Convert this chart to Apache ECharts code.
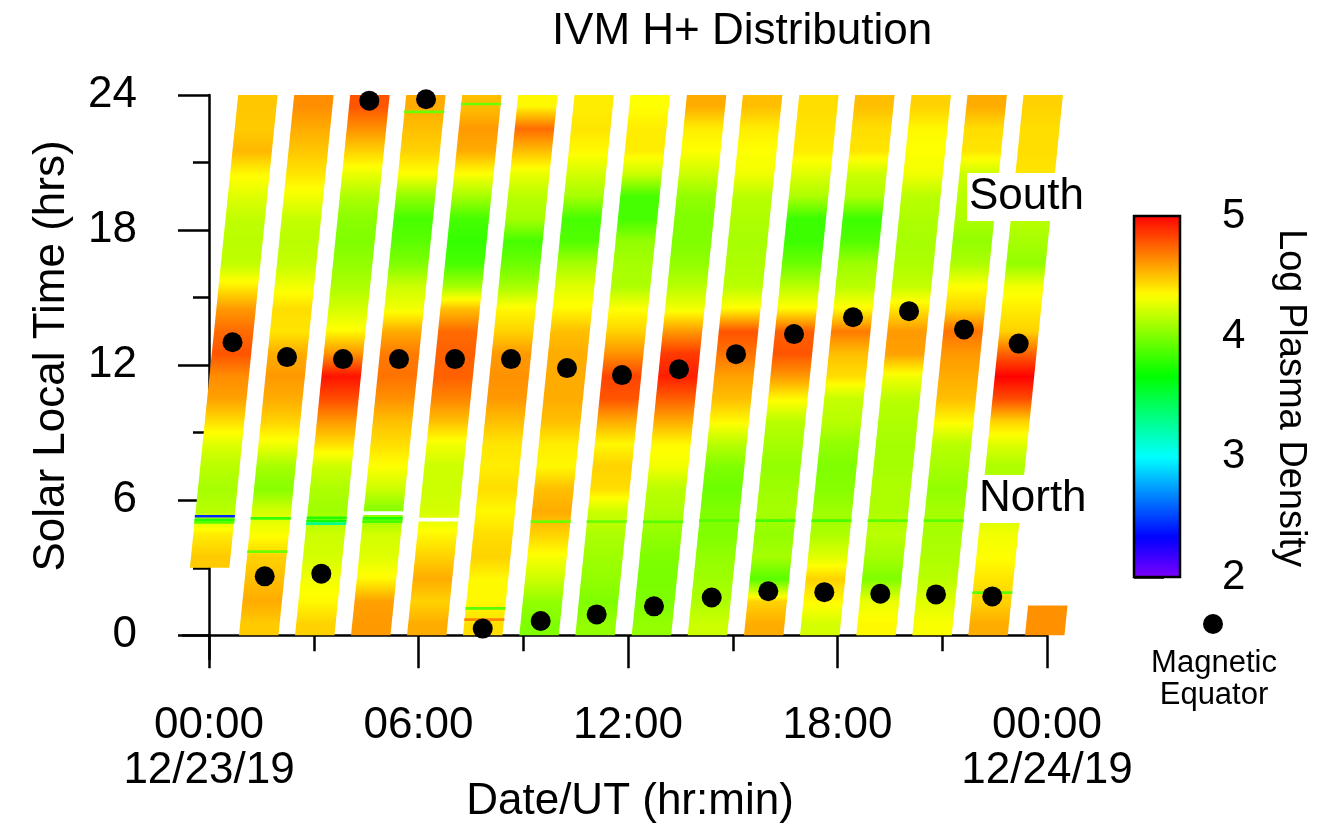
<!DOCTYPE html>
<html>
<head>
<meta charset="utf-8">
<script src="https://cdn.jsdelivr.net/npm/echarts@6.0.0/dist/echarts.min.js"></script>
<style>
html,body{margin:0;padding:0;background:#fff;}
#chart{width:1328px;height:824px;}
</style>
</head>
<body>
<div id="chart"></div>
<script>
// ---------------- DATA ----------------
const chartTitle = 'IVM H+ Distribution';
const xAxisTitle = 'Date/UT (hr:min)';
const yAxisTitle = 'Solar Local Time (hrs)';
const colorbarTitle = 'Log Plasma Density';
const legendTitle = 'Magnetic\nEquator';

// UT (hours after 00:00 12/23/19) at which each orbit track crosses SLT 0
const orbitStartUT = [-0.745, 0.859, 2.463, 4.067, 5.671, 7.274, 8.887, 10.491,
                      12.106, 13.710, 15.322, 16.926, 18.538, 20.142, 21.746, 23.370];
// SLT range covered by each orbit track
const orbitSltMin = [3, 0, 0, 0, 0, 0, 0, 0, 0, 0, 0, 0, 0, 0, 0, 0];
const orbitSltMax = [24, 24, 24, 24, 24, 24, 24, 24, 24, 24, 24, 24, 24, 24, 24, 1.33];
const orbitSweepHours = 1.58;   // UT hours for a track to sweep 24 h of SLT
const trackWidthHours = 1.13;   // drawn width of each track

// log plasma density per orbit, SLT bins 0-1, 1-2, ..., 23-24
const orbit00 = [null,null,null,4.47,4.38,4.15,4.10,4.15,4.25,4.42,4.58,4.63,4.78,4.72,4.60,4.38,4.17,4.15,4.17,4.25,4.35,4.52,4.47,4.48];
const orbit01 = [4.47,4.55,4.50,4.45,4.32,4.22,4.02,4.10,4.30,4.45,4.55,4.60,4.55,4.40,4.42,4.30,4.18,4.15,4.18,4.30,4.40,4.48,4.55,4.63];
const orbit02 = [4.45,4.35,4.30,4.22,4.20,4.08,4.12,4.20,4.42,4.60,4.80,4.95,4.62,4.35,4.22,4.12,4.05,4.00,4.03,4.12,4.28,4.45,4.62,4.78];
const orbit03 = [4.60,4.58,4.35,4.25,4.22,4.00,4.20,4.33,4.42,4.50,4.62,4.70,4.68,4.55,4.30,4.20,4.00,3.90,3.85,4.05,4.33,4.45,4.50,4.55];
const orbit04 = [4.55,4.45,4.55,4.45,4.35,4.22,4.20,4.20,4.30,4.50,4.65,4.75,4.75,4.72,4.50,4.10,3.85,3.80,3.85,4.10,4.33,4.55,4.60,4.50];
const orbit05 = [4.42,4.35,4.35,4.45,4.42,4.35,4.42,4.38,4.40,4.50,4.60,4.62,4.60,4.45,4.35,4.10,3.95,3.85,4.10,4.15,4.28,4.50,4.72,4.35];
const orbit06 = [4.00,4.05,4.20,4.32,4.45,4.55,4.50,4.35,4.38,4.50,4.55,4.55,4.55,4.50,4.35,4.25,4.10,3.88,3.85,4.10,4.22,4.35,4.40,4.38];
const orbit07 = [4.05,4.00,4.05,4.08,4.12,4.20,4.42,4.45,4.35,4.55,4.78,4.82,4.62,4.45,4.33,4.12,4.10,4.05,3.85,3.85,4.20,4.38,4.38,4.33];
const orbit08 = [4.05,4.00,3.98,4.00,4.05,4.12,4.15,4.30,4.35,4.55,4.75,4.92,4.85,4.60,4.30,4.15,4.05,4.00,4.00,4.05,4.20,4.33,4.38,4.55];
const orbit09 = [4.20,4.12,4.08,4.05,4.00,4.00,3.95,4.00,4.15,4.35,4.50,4.58,4.70,4.78,4.35,4.15,4.12,4.10,4.12,4.15,4.30,4.33,4.38,4.50];
const orbit10 = [4.55,4.45,3.90,4.10,4.05,4.10,4.08,4.05,4.10,4.15,4.35,4.60,4.78,4.75,4.35,4.15,3.95,3.82,3.82,4.12,4.25,4.38,4.40,4.42];
const orbit11 = [4.22,4.35,4.45,4.25,4.12,4.08,4.02,4.00,4.05,4.15,4.18,4.42,4.50,4.68,4.35,4.15,4.08,3.88,3.82,4.12,4.20,4.40,4.42,4.50];
const orbit12 = [4.35,4.28,4.00,4.10,4.15,4.12,4.12,4.10,4.10,4.12,4.15,4.30,4.58,4.60,4.40,4.18,4.12,4.10,4.12,4.15,4.30,4.33,4.35,4.45];
const orbit13 = [4.32,4.25,4.15,4.12,4.10,4.10,4.05,4.10,4.15,4.35,4.50,4.55,4.60,4.70,4.45,4.33,4.12,4.05,4.12,4.15,4.20,4.40,4.42,4.55];
const orbit14 = [4.55,4.45,4.40,4.33,4.30,4.20,4.15,4.12,4.25,4.45,4.80,5.00,4.75,4.45,4.38,4.30,4.05,4.10,4.15,4.25,4.40,4.42,4.42,4.45];
const orbit15 = [4.62,4.62,null,null,null,null,null,null,null,null,null,null,null,null,null,null,null,null,null,null,null,null,null,null];
const orbitDensity = [orbit00, orbit01, orbit02, orbit03, orbit04, orbit05, orbit06, orbit07,
                      orbit08, orbit09, orbit10, orbit11, orbit12, orbit13, orbit14, orbit15];

// thin streaks: [orbit, SLT, log density]  (null = data gap)
const streaks = [
  [0, 5.29, 2.45], [0, 5.13, 3.75], [0, 5.02, 3.90],
  [1, 5.20, 3.80], [1, 3.72, 3.95],
  [2, 5.22, 3.75], [2, 5.08, 3.70], [2, 4.96, 3.30],
  [3, 5.43, null], [3, 5.20, 3.75], [3, 5.05, 3.85], [3, 23.25, 3.95],
  [4, 5.14, null], [4, 23.60, 3.95],
  [5, 1.20, 3.90], [5, 0.70, 4.65],
  [6, 5.05, 3.95], [7, 5.05, 3.95], [8, 5.04, 3.90], [9, 5.10, 3.90],
  [10, 5.10, 3.85], [11, 5.10, 3.85], [12, 5.10, 3.90], [13, 5.10, 3.90],
  [14, 1.90, 3.90]
];

// magnetic equator crossings
const equatorUT  = [0.673, 1.595, 2.234, 3.216, 3.838, 4.591, 5.441, 6.215, 7.045, 7.839, 8.649, 9.500, 10.253, 11.103, 11.828,
                    12.744, 13.460, 14.397, 15.093, 16.018, 16.754, 17.622, 18.444, 19.226, 20.048, 20.821, 21.623, 22.433, 23.189];
const equatorSLT = [13.02, 2.62, 12.36, 2.74, 12.27, 23.75, 12.27, 23.81, 12.27, 0.30, 12.27, 0.64, 11.87, 0.93, 11.56,
                    1.29, 11.82, 1.68, 12.49, 1.96, 13.38, 1.92, 14.13, 1.85, 14.40, 1.82, 13.59, 1.73, 12.96];

// axes
const xMin = -0.745, xMax = 24;
const yMin = -1.05, yMax = 24;
const xMajorTicks = [0, 6, 12, 18, 24];
const xMinorTicks = [3, 9, 15, 21];
const xTickLabels = ['00:00\n12/23/19', '06:00', '12:00', '18:00', '00:00\n12/24/19'];
const yMajorTicks = [0, 6, 12, 18, 24];
const yMinorTicks = [3, 9, 15, 21];
const cbarMin = 2, cbarMax = 5;
const cbarTicks = [2, 3, 4, 5];

// ---------------- RENDERING ----------------
const FONT = "'Liberation Sans', Arial, Helvetica, sans-serif";

function hex2(n) { const s = Math.round(Math.max(0, Math.min(255, n))).toString(16); return s.length < 2 ? '0' + s : s; }
// rainbow: hue 270 (violet) at 2 -> hue 0 (red) at 5
function densityColor(v) {
  if (v == null || isNaN(v)) return '#ffffff';
  const c = Math.max(cbarMin, Math.min(cbarMax, v));
  const h = (cbarMax - c) / (cbarMax - cbarMin) * 270;
  const f = (n) => { const k = (n + h / 30) % 12; return 0.5 - 0.5 * Math.max(-1, Math.min(k - 3, 9 - k, 1)); };
  return '#' + hex2(f(0) * 255) + hex2(f(8) * 255) + hex2(f(4) * 255);
}

function valueAt(prof, s) {
  const x = s - 0.5;
  const i0 = Math.floor(x), i1 = i0 + 1;
  const get = (i) => prof[Math.max(0, Math.min(prof.length - 1, i))];
  let a = get(i0), b = get(i1);
  if (a == null) a = b;
  if (b == null) b = a;
  return a + (b - a) * (x - i0);
}

function trackLeftUT(k, s) { return orbitStartUT[k] + s / 24 * orbitSweepHours; }

function renderTrack(params, api) {
  const k = params.dataIndex;
  const sLo = orbitSltMin[k], sHi = orbitSltMax[k];
  const prof = orbitDensity[k];
  const bl = api.coord([trackLeftUT(k, sLo), sLo]);
  const br = api.coord([trackLeftUT(k, sLo) + trackWidthHours, sLo]);
  const tr = api.coord([trackLeftUT(k, sHi) + trackWidthHours, sHi]);
  const tl = api.coord([trackLeftUT(k, sHi), sHi]);
  const n = Math.max(2, Math.round((sHi - sLo) / 0.1));
  const stops = [];
  for (let j = 0; j <= n; j++) {
    const s = sHi - (sHi - sLo) * j / n;
    stops.push({ offset: j / n, color: densityColor(valueAt(prof, s)) });
  }
  return {
    type: 'polygon',
    shape: { points: [bl, br, tr, tl] },
    style: { fill: new echarts.graphic.LinearGradient(0, tl[1], 0, bl[1], stops, true), stroke: null }
  };
}

function renderStreak(params, api) {
  const st = streaks[params.dataIndex];
  const k = st[0], s = st[1], v = st[2];
  const h = v == null ? 0.16 : 0.12;
  const a = s - h / 2, b = s + h / 2;
  const p1 = api.coord([trackLeftUT(k, a) - 0.01, a]);
  const p2 = api.coord([trackLeftUT(k, a) + trackWidthHours + 0.01, a]);
  const p3 = api.coord([trackLeftUT(k, b) + trackWidthHours + 0.01, b]);
  const p4 = api.coord([trackLeftUT(k, b) - 0.01, b]);
  return { type: 'polygon', shape: { points: [p1, p2, p3, p4] }, style: { fill: densityColor(v) } };
}

function renderColorbar(params, api) {
  const p1 = api.coord([0, cbarMax]);
  const p2 = api.coord([1, cbarMin]);
  const stops = [];
  const n = 60;
  for (let j = 0; j <= n; j++) {
    stops.push({ offset: j / n, color: densityColor(cbarMax - (cbarMax - cbarMin) * j / n) });
  }
  return {
    type: 'rect',
    shape: { x: p1[0], y: p1[1], width: p2[0] - p1[0], height: p2[1] - p1[1] },
    style: { fill: new echarts.graphic.LinearGradient(0, 0, 0, 1, stops), stroke: '#000', lineWidth: 2.5 }
  };
}

const axisLineStyle = { color: '#000', width: 2.5 };
const labelStyle = { color: '#000', fontFamily: FONT };

const option = {
  animation: false,
  backgroundColor: '#ffffff',
  grid: [
    { left: 183, top: 95, width: 864, height: 564 },
    { left: 1134, top: 216, width: 46, height: 361 }
  ],
  xAxis: [
    { gridIndex: 0, type: 'value', min: xMin, max: xMax, position: 'bottom',
      axisLine: { show: true, lineStyle: axisLineStyle },
      axisTick: { show: true, inside: false, customValues: xMajorTicks, length: 33, lineStyle: axisLineStyle },
      axisLabel: Object.assign({ show: true, customValues: xMajorTicks, margin: 44, fontSize: 44, lineHeight: 45,
        formatter: (v) => { const i = xMajorTicks.indexOf(v); return i >= 0 ? xTickLabels[i] : ''; } }, labelStyle),
      splitLine: { show: false } },
    { gridIndex: 0, type: 'value', min: xMin, max: xMax, position: 'bottom',
      axisLine: { show: false },
      axisTick: { show: true, inside: false, customValues: xMinorTicks, length: 16, lineStyle: axisLineStyle },
      axisLabel: { show: false }, splitLine: { show: false } },
    { gridIndex: 1, type: 'value', min: 0, max: 1, show: false }
  ],
  yAxis: [
    { gridIndex: 0, type: 'value', min: yMin, max: yMax, position: 'left',
      axisLine: { show: true, lineStyle: axisLineStyle },
      axisTick: { show: true, inside: false, customValues: yMajorTicks, length: 31, lineStyle: axisLineStyle },
      axisLabel: Object.assign({ show: true, customValues: yMajorTicks, margin: 46, fontSize: 44 }, labelStyle),
      splitLine: { show: false } },
    { gridIndex: 0, type: 'value', min: yMin, max: yMax, position: 'left',
      axisLine: { show: false },
      axisTick: { show: true, inside: false, customValues: yMinorTicks, length: 16, lineStyle: axisLineStyle },
      axisLabel: { show: false }, splitLine: { show: false } },
    { gridIndex: 1, type: 'value', min: cbarMin, max: cbarMax, position: 'right',
      axisLine: { show: false },
      axisTick: { show: true, inside: false, customValues: cbarTicks, length: 30, lineStyle: axisLineStyle },
      axisLabel: Object.assign({ show: true, customValues: cbarTicks, margin: 42, fontSize: 42 }, labelStyle),
      splitLine: { show: false } }
  ],
  series: [
    { type: 'custom', name: 'H+ density', xAxisIndex: 0, yAxisIndex: 0, z: 2,
      data: orbitStartUT.map((t, i) => [t, orbitSltMin[i]]),
      encode: { x: 0, y: 1 }, renderItem: renderTrack, silent: true },
    { type: 'custom', name: 'streaks', xAxisIndex: 0, yAxisIndex: 0, z: 3,
      data: streaks.map((s) => [trackLeftUT(s[0], s[1]), s[1]]),
      encode: { x: 0, y: 1 }, renderItem: renderStreak, silent: true },
    { type: 'scatter', name: 'Magnetic Equator', xAxisIndex: 0, yAxisIndex: 0, z: 5,
      data: equatorUT.map((x, i) => [x, equatorSLT[i]]),
      symbol: 'circle', symbolSize: 20, itemStyle: { color: '#000000', opacity: 1 }, clip: false, silent: true },
    { type: 'custom', name: 'colorbar', xAxisIndex: 2, yAxisIndex: 2, z: 2,
      data: [[0, cbarMin]], encode: { x: 0, y: 1 }, renderItem: renderColorbar, silent: true }
  ],
  graphic: [
    { type: 'text', x: 742, y: 32, z: 10,
      style: { text: chartTitle, font: '44px ' + FONT, fill: '#000', align: 'center', verticalAlign: 'middle', textAlign: 'center', textVerticalAlign: 'middle' } },
    { type: 'text', x: 630, y: 802, z: 10,
      style: { text: xAxisTitle, font: '44px ' + FONT, fill: '#000', align: 'center', verticalAlign: 'middle', textAlign: 'center', textVerticalAlign: 'middle' } },
    { type: 'text', x: 52, y: 356, rotation: Math.PI / 2, z: 10,
      style: { text: yAxisTitle, font: '44px ' + FONT, fill: '#000', align: 'center', verticalAlign: 'middle', textAlign: 'center', textVerticalAlign: 'middle' } },
    { type: 'text', x: 1290, y: 398, rotation: -Math.PI / 2, z: 10,
      style: { text: colorbarTitle, font: '38px ' + FONT, fill: '#000', align: 'center', verticalAlign: 'middle', textAlign: 'center', textVerticalAlign: 'middle' } },
    { type: 'text', x: 967, y: 197, z: 20,
      style: { text: 'South', font: '44px ' + FONT, fill: '#000', align: 'left', verticalAlign: 'middle', textAlign: 'left', textVerticalAlign: 'middle',
               backgroundColor: '#ffffff', padding: [2, 4, 2, 2] } },
    { type: 'text', x: 977, y: 499, z: 20,
      style: { text: 'North', font: '44px ' + FONT, fill: '#000', align: 'left', verticalAlign: 'middle', textAlign: 'left', textVerticalAlign: 'middle',
               backgroundColor: '#ffffff', padding: [2, 4, 2, 2] } },
    { type: 'circle', z: 10, shape: { cx: 1213, cy: 624, r: 10 }, style: { fill: '#000' } },
    { type: 'text', x: 1214, y: 679, z: 10,
      style: { text: legendTitle, font: '31px ' + FONT, lineHeight: 32, fill: '#000', align: 'center', verticalAlign: 'middle', textAlign: 'center', textVerticalAlign: 'middle' } }
  ]
};

const chart = echarts.init(document.getElementById('chart'), null, { renderer: 'canvas', width: 1328, height: 824 });
chart.setOption(option);
</script>
</body>
</html>
